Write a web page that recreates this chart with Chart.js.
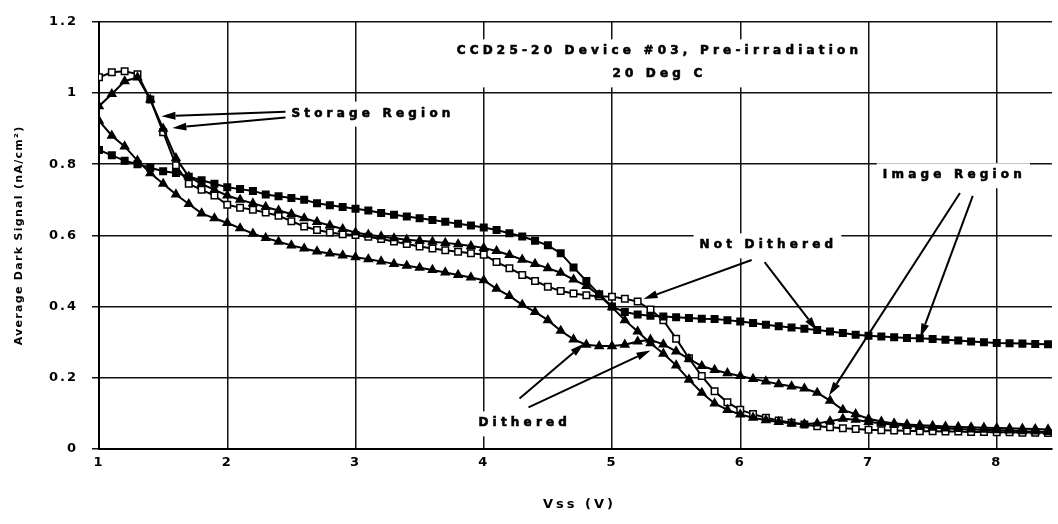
<!DOCTYPE html>
<html>
<head>
<meta charset="utf-8">
<script src="https://cdn.jsdelivr.net/npm/chart.js@4/dist/chart.umd.min.js"></script>
<style>
  body { margin: 0; background: #fff; }
  #chart { display: block; }
</style>
</head>
<body>
<canvas id="chart" width="1058" height="524"></canvas>
<script>
// Vss in volts, one reading every 0.1 V
var vss = [1.0, 1.1, 1.2, 1.3, 1.4, 1.5, 1.6, 1.7, 1.8, 1.9,
           2.0, 2.1, 2.2, 2.3, 2.4, 2.5, 2.6, 2.7, 2.8, 2.9,
           3.0, 3.1, 3.2, 3.3, 3.4, 3.5, 3.6, 3.7, 3.8, 3.9,
           4.0, 4.1, 4.2, 4.3, 4.4, 4.5, 4.6, 4.7, 4.8, 4.9,
           5.0, 5.1, 5.2, 5.3, 5.4, 5.5, 5.6, 5.7, 5.8, 5.9,
           6.0, 6.1, 6.2, 6.3, 6.4, 6.5, 6.6, 6.7, 6.8, 6.9,
           7.0, 7.1, 7.2, 7.3, 7.4, 7.5, 7.6, 7.7, 7.8, 7.9,
           8.0, 8.1, 8.2, 8.3, 8.4];

// image region, not dithered (filled squares)
var imageNotDithered = [0.84, 0.825, 0.81, 0.80, 0.79, 0.78, 0.775, 0.765, 0.755, 0.745,
                        0.735, 0.73, 0.725, 0.715, 0.71, 0.705, 0.70, 0.69, 0.685, 0.68,
                        0.675, 0.67, 0.663, 0.658, 0.653, 0.648, 0.643, 0.638, 0.633, 0.628,
                        0.622, 0.615, 0.606, 0.597, 0.585, 0.572, 0.55, 0.51, 0.472, 0.435,
                        0.40, 0.385, 0.378, 0.374, 0.372, 0.37, 0.368, 0.366, 0.365, 0.362,
                        0.358, 0.354, 0.349, 0.345, 0.341, 0.338, 0.334, 0.33, 0.326, 0.321,
                        0.318, 0.316, 0.314, 0.312, 0.311, 0.309, 0.307, 0.305, 0.302, 0.30,
                        0.298, 0.297, 0.296, 0.295, 0.294];

// storage region, not dithered (open squares)
var storageNotDithered = [1.044, 1.058, 1.061, 1.053, 0.982, 0.89, 0.797, 0.745, 0.728, 0.712,
                          0.686, 0.678, 0.672, 0.664, 0.655, 0.64, 0.625, 0.615, 0.608, 0.603,
                          0.601, 0.596, 0.59, 0.583, 0.576, 0.569, 0.563, 0.558, 0.554, 0.55,
                          0.546, 0.525, 0.508, 0.489, 0.472, 0.456, 0.444, 0.437, 0.432, 0.429,
                          0.428, 0.422, 0.414, 0.392, 0.362, 0.31, 0.255, 0.205, 0.162, 0.131,
                          0.11, 0.098, 0.088, 0.08, 0.074, 0.069, 0.064, 0.061, 0.058, 0.056,
                          0.054, 0.053, 0.052, 0.051, 0.05, 0.05, 0.049, 0.049, 0.048, 0.048,
                          0.047, 0.047, 0.046, 0.046, 0.045];

// image region, dithered (filled triangles, lower start)
var imageDithered = [0.922, 0.88, 0.85, 0.81, 0.775, 0.745, 0.715, 0.688, 0.662, 0.648,
                     0.635, 0.62, 0.605, 0.593, 0.582, 0.572, 0.563, 0.555, 0.549, 0.544,
                     0.539, 0.533, 0.527, 0.52, 0.515, 0.509, 0.503, 0.496, 0.489, 0.482,
                     0.474, 0.45, 0.43, 0.405, 0.385, 0.362, 0.332, 0.308, 0.293, 0.289,
                     0.289, 0.293, 0.302, 0.307, 0.294, 0.274, 0.253, 0.233, 0.222, 0.213,
                     0.205, 0.197, 0.19, 0.182, 0.176, 0.17, 0.158, 0.136, 0.11, 0.098,
                     0.085, 0.077, 0.072, 0.069, 0.067, 0.065, 0.063, 0.062, 0.061, 0.06,
                     0.059, 0.058, 0.057, 0.056, 0.055];

// storage region, dithered (filled triangles, peak near 1.3 V)
var storageDithered = [0.963, 0.997, 1.033, 1.044, 0.982, 0.90, 0.817, 0.765, 0.745, 0.728,
                       0.712, 0.70, 0.69, 0.68, 0.67, 0.66, 0.648, 0.638, 0.628, 0.618,
                       0.608, 0.602, 0.597, 0.592, 0.588, 0.585, 0.582, 0.579, 0.575, 0.57,
                       0.565, 0.556, 0.545, 0.532, 0.52, 0.508, 0.495, 0.476, 0.458, 0.432,
                       0.398, 0.362, 0.33, 0.297, 0.268, 0.235, 0.195, 0.158, 0.128, 0.11,
                       0.097, 0.088, 0.081, 0.076, 0.072, 0.07, 0.072, 0.078, 0.085, 0.082,
                       0.076, 0.072, 0.068, 0.065, 0.062, 0.06, 0.058, 0.056, 0.055, 0.054,
                       0.053, 0.052, 0.05, 0.049, 0.048];

var titleLines = ['CCD25-20 Device #03, Pre-irradiation', '20 Deg C'];
var xTitle = 'Vss (V)';
var yTitle = 'Average Dark Signal (nA/cm\u00B2)';

// callouts, placed in data units
var callouts = [
  { lines: titleLines, x: 5.37, y: 1.117, align: 'center' },
  { lines: ['Storage Region'], x: 2.5, y: 0.942, align: 'left' },
  { lines: ['Image Region'], x: 7.67, y: 0.769, align: 'center' },
  { lines: ['Not Dithered'], x: 6.22, y: 0.572, align: 'center' },
  { lines: ['Dithered'], x: 4.32, y: 0.072, align: 'center' }
];

var arrows = [
  [2.454, 0.947, 1.487, 0.935],
  [2.454, 0.931, 1.572, 0.902],
  [7.713, 0.719, 6.692, 0.15],
  [7.813, 0.711, 7.404, 0.313],
  [6.089, 0.531, 5.246, 0.421],
  [6.19, 0.525, 6.599, 0.333],
  [4.279, 0.142, 4.782, 0.296],
  [4.349, 0.117, 5.30, 0.277]
];

var FONT = '"DejaVu Sans", "Liberation Sans", Arial, sans-serif';

function points(ys) {
  return vss.map(function(x, i) { return { x: x, y: ys[i] }; });
}

function series(ys, style, fill) {
  return {
    data: points(ys),
    borderColor: '#000',
    borderWidth: 2,
    pointStyle: style,
    pointRadius: style === 'triangle' ? 4.6 : 4.6,
    pointBorderWidth: 1.5,
    pointBorderColor: '#000',
    pointBackgroundColor: fill,
    tension: 0
  };
}

function boxFor(ctx, c, p) {
  var w = 0;
  c.lines.forEach(function(t) { w = Math.max(w, ctx.measureText(t).width); });
  var left = c.align === 'left' ? p.x : p.x - w / 2;
  var h = c.lines.length * 23;
  return { x: left - 6, y: p.y - 12, w: w + 10, h: h + 2 };
}

var notesPlugin = {
  id: 'notes',
  beforeDraw: function(chart) {
    chart.ctx.letterSpacing = '2px';
  },
  beforeDatasetsDraw: function(chart) {
    var ctx = chart.ctx;
    var sx = chart.scales.x, sy = chart.scales.y;
    ctx.save();
    ctx.font = 'bold 12px ' + FONT;
    ctx.letterSpacing = '4.2px';
    ctx.fillStyle = '#fff';
    callouts.forEach(function(c) {
      var p = { x: sx.getPixelForValue(c.x), y: sy.getPixelForValue(c.y) };
      var b = boxFor(ctx, c, p);
      ctx.fillRect(b.x, b.y, b.w, b.h);
    });
    ctx.restore();
  },
  afterDatasetsDraw: function(chart) {
    var ctx = chart.ctx;
    var sx = chart.scales.x, sy = chart.scales.y;
    ctx.save();
    ctx.font = 'bold 12px ' + FONT;
    ctx.letterSpacing = '4.2px';
    ctx.fillStyle = '#000';
    ctx.strokeStyle = '#000';
    ctx.textBaseline = 'middle';
    callouts.forEach(function(c) {
      var px = sx.getPixelForValue(c.x), py = sy.getPixelForValue(c.y);
      ctx.textAlign = c.align;
      c.lines.forEach(function(t, i) {
        ctx.lineWidth = 0.6;
        ctx.fillText(t, px, py + i * 23);
        ctx.strokeText(t, px, py + i * 23);
      });
    });

    arrows.forEach(function(a) {
      var x1 = sx.getPixelForValue(a[0]), y1 = sy.getPixelForValue(a[1]);
      var x2 = sx.getPixelForValue(a[2]), y2 = sy.getPixelForValue(a[3]);
      var ang = Math.atan2(y2 - y1, x2 - x1);
      var len = 14, half = 4;
      var bx = x2 - len * Math.cos(ang), by = y2 - len * Math.sin(ang);
      ctx.lineWidth = 2;
      ctx.beginPath();
      ctx.moveTo(x1, y1);
      ctx.lineTo(bx, by);
      ctx.stroke();
      ctx.beginPath();
      ctx.moveTo(x2, y2);
      ctx.lineTo(bx + half * Math.sin(ang), by - half * Math.cos(ang));
      ctx.lineTo(bx - half * Math.sin(ang), by + half * Math.cos(ang));
      ctx.closePath();
      ctx.fill();
    });
    ctx.restore();
  },
  afterDraw: function(chart) {
    var ctx = chart.ctx;
    var area = chart.chartArea;
    ctx.save();
    ctx.fillStyle = '#000';
    ctx.textAlign = 'center';
    ctx.textBaseline = 'middle';
    ctx.font = 'bold 13px ' + FONT;
    ctx.letterSpacing = '3px';
    ctx.fillText(xTitle, (area.left + area.right) / 2 + 4, area.bottom + 56);
    ctx.translate(19, (area.top + area.bottom) / 2);
    ctx.rotate(-Math.PI / 2);
    ctx.font = 'bold 11px ' + FONT;
    ctx.letterSpacing = '1.3px';
    ctx.fillText(yTitle, 0, 0);
    ctx.restore();
  }
};

new Chart(document.getElementById('chart'), {
  type: 'line',
  data: {
    datasets: [
      series(imageNotDithered, 'rect', '#000'),
      series(imageDithered, 'triangle', '#000'),
      series(storageDithered, 'triangle', '#000'),
      series(storageNotDithered, 'rect', '#fff')
    ]
  },
  options: {
    responsive: false,
    animation: false,
    layout: { padding: { top: 4, right: 0, left: 0, bottom: 0 } },
    plugins: { legend: { display: false }, tooltip: { enabled: false } },
    scales: {
      x: {
        type: 'linear',
        min: 1,
        max: 8.43,
        afterFit: function(s) { s.height = 75; },
        ticks: {
          stepSize: 1,
          includeBounds: false,
          color: '#000',
          padding: 6,
          font: { family: FONT, size: 13, weight: 'bold' },
          maxRotation: 0
        },
        grid: { color: '#111', lineWidth: 1.5, drawTicks: false },
        border: { color: '#000', width: 2 }
      },
      y: {
        min: 0,
        max: 1.2,
        afterFit: function(s) { s.width = 99; },
        ticks: {
          stepSize: 0.2,
          color: '#000',
          padding: 14,
          font: { family: FONT, size: 13, weight: 'bold' },
          callback: function(v) { return String(+v.toFixed(1)); }
        },
        grid: { color: '#111', lineWidth: 1.5, tickLength: 7 },
        border: { color: '#000', width: 2 }
      }
    }
  },
  plugins: [notesPlugin]
});
</script>
</body>
</html>
